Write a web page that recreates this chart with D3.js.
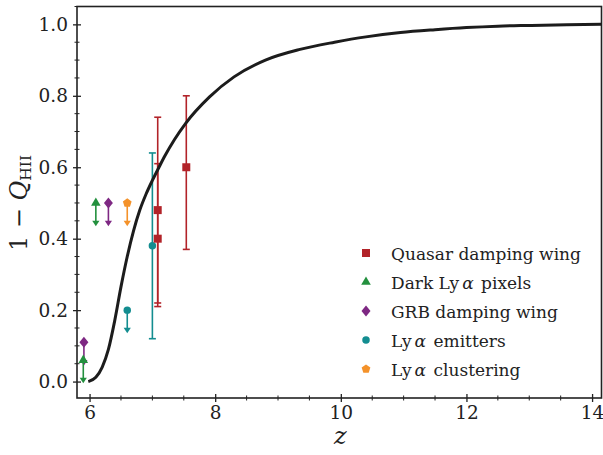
<!DOCTYPE html>
<html>
<head>
<meta charset="utf-8">
<script src="https://cdn.jsdelivr.net/npm/d3@7"></script>
<style>
  html, body { margin: 0; padding: 0; background: #fff; }
  svg { display: block; }
  svg text { font-family: "DejaVu Serif", serif; }
</style>
</head>
<body>
<svg id="chart" width="603" height="455"></svg>
<script>
// ── Model curve: neutral fraction 1 - Q_HII vs redshift ───────────────────────
const curveZ = [5.98, 6.1, 6.2, 6.3, 6.4, 6.5, 6.6, 6.7, 6.8, 6.9, 7.0, 7.1, 7.2, 7.35, 7.53, 7.91, 8.3, 8.8, 9.35, 9.9, 10.4, 10.95, 11.5, 12.0, 12.5, 13.0, 13.6, 14.15];
const curveV = [0.0, 0.012, 0.04, 0.09, 0.17, 0.265, 0.35, 0.422, 0.48, 0.525, 0.563, 0.598, 0.632, 0.677, 0.723, 0.797, 0.853, 0.90, 0.93, 0.95, 0.965, 0.977, 0.985, 0.991, 0.995, 0.997, 0.999, 1.0];

// ── Observational constraints ─────────────────────────────────────────────────
// Quasar damping wing (two-sided errors)
const qsoZ  = [7.085, 7.085, 7.54];
const qsoV  = [0.48, 0.40, 0.60];
const qsoLo = [0.22, 0.21, 0.37];
const qsoHi = [0.74, 0.61, 0.80];
// Dark Lyα pixels (upper limits)
const darkZ = [5.9, 6.1];
const darkV = [0.06, 0.50];
// GRB damping wing (upper limits)
const grbZ = [5.91, 6.3];
const grbV = [0.11, 0.50];
// Lyα emitters: one measurement, one upper limit
const laeZ  = [7.0];
const laeV  = [0.38];
const laeLo = [0.12];
const laeHi = [0.64];
const laeLimZ = [6.6];
const laeLimV = [0.20];
// Lyα clustering (upper limit)
const clusZ = [6.6];
const clusV = [0.50];

const xTicks = [6, 8, 10, 12, 14];
const yTicks = [0.0, 0.2, 0.4, 0.6, 0.8, 1.0];

const legendLabels = ['Quasar damping wing', 'Dark Ly|α| pixels', 'GRB damping wing', 'Ly|α| emitters', 'Ly|α| clustering'];

// ── Styling ───────────────────────────────────────────────────────────────────
const C_QSO = '#b22329', C_DARK = '#23903e', C_GRB = '#7e2883', C_LAE = '#138d90', C_CLUS = '#f4922a';
const LIM = 0.065;   // length of the upper-limit arrows (data units)
const FONT = '"DejaVu Serif", serif';

const svg = d3.select('#chart');
const x = d3.scaleLinear([5.8, 14.15], [77, 601.5]);
const y = d3.scaleLinear([-0.046, 1.05], [398, 6.5]);

// ── Axes (ticks straddle the spine) ───────────────────────────────────────────
const xAxis = svg.append('g').attr('transform', `translate(0,${y.range()[0]})`)
  .call(d3.axisBottom(x).tickValues(xTicks).tickFormat(d3.format('d')).tickSize(4).tickPadding(4));
const yAxis = svg.append('g').attr('transform', `translate(${x.range()[0]},0)`)
  .call(d3.axisLeft(y).tickValues(yTicks).tickFormat(d3.format('.1f')).tickSize(4).tickPadding(5));
[xAxis, yAxis].forEach(g => {
  g.attr('font-family', FONT);
  g.select('.domain').remove();
  g.selectAll('text').attr('font-size', 18.5).attr('fill', '#222');
  g.selectAll('.tick line').attr('stroke', '#222').attr('stroke-width', 1.3);
});
xAxis.selectAll('.tick line').attr('y1', -4).attr('y2', 4);
yAxis.selectAll('.tick line').attr('x1', -4).attr('x2', 4);

// minor ticks
svg.append('g').selectAll('line').data(d3.range(6, 14.2, 0.5).filter(v => v % 2 !== 0))
  .join('line').attr('x1', d => x(d)).attr('x2', d => x(d))
  .attr('y1', y.range()[0] - 2.5).attr('y2', y.range()[0] + 2.5)
  .attr('stroke', '#222').attr('stroke-width', 1);
svg.append('g').selectAll('line').data(d3.range(0, 1.06, 0.05).filter(v => Math.round(v * 100) % 20 !== 0))
  .join('line').attr('y1', d => y(d)).attr('y2', d => y(d))
  .attr('x1', x.range()[0] - 2.5).attr('x2', x.range()[0] + 2.5)
  .attr('stroke', '#222').attr('stroke-width', 1);

// frame
svg.append('rect')
  .attr('x', x.range()[0]).attr('y', y.range()[1])
  .attr('width', x.range()[1] - x.range()[0]).attr('height', y.range()[0] - y.range()[1])
  .attr('fill', 'none').attr('stroke', '#222').attr('stroke-width', 1.6);

// ── Axis labels ───────────────────────────────────────────────────────────────
svg.append('text').attr('x', (x.range()[0] + x.range()[1]) / 2 + 1).attr('y', 444)
  .attr('text-anchor', 'middle').attr('font-size', 24).attr('font-style', 'italic').attr('fill', '#222')
  .text('z');

const yl = svg.append('text').attr('transform', 'translate(27,203) rotate(-90)')
  .attr('text-anchor', 'middle').attr('font-size', 24).attr('fill', '#222');
yl.append('tspan').text('1 − ');
yl.append('tspan').attr('font-style', 'italic').text('Q');
yl.append('tspan').attr('font-size', 15.5).attr('dy', 4).text('HII');

// ── Marker shapes ─────────────────────────────────────────────────────────────
const sym = {
  square:   d3.symbol(d3.symbolSquare, 64)(),
  triangle: d3.symbol(d3.symbolTriangle, 40)(),
  diamond:  'M0,-5.5L4.5,0L0,5.5L-4.5,0Z',
  circle:   d3.symbol(d3.symbolCircle, 44)(),
  pentagon: d3.range(5).map(i => {
    const a = -Math.PI / 2 + i * 2 * Math.PI / 5;
    return [4.6 * Math.cos(a), 4.6 * Math.sin(a)];
  }).map((p, i) => (i ? 'L' : 'M') + p[0].toFixed(2) + ',' + p[1].toFixed(2)).join('') + 'Z'
};
const arrowHead = 'M-3.6,-5.5L3.6,-5.5L0,0Z';

const plot = svg.append('g');

function errorBars(zs, vs, lo, hi, col, shape) {
  const g = plot.append('g');
  const d = zs.map((z, i) => ({ z, v: vs[i], lo: lo[i], hi: hi[i] }));
  g.selectAll('line.bar').data(d).join('line')
    .attr('x1', p => x(p.z)).attr('x2', p => x(p.z))
    .attr('y1', p => y(p.lo)).attr('y2', p => y(p.hi))
    .attr('stroke', col).attr('stroke-width', 1.6);
  ['lo', 'hi'].forEach(k => {
    g.selectAll('line.cap-' + k).data(d).join('line')
      .attr('x1', p => x(p.z) - 3.5).attr('x2', p => x(p.z) + 3.5)
      .attr('y1', p => y(p[k])).attr('y2', p => y(p[k]))
      .attr('stroke', col).attr('stroke-width', 1.6);
  });
  g.selectAll('path').data(d).join('path')
    .attr('d', sym[shape]).attr('transform', p => `translate(${x(p.z)},${y(p.v)})`)
    .attr('fill', col);
}

function upperLimits(zs, vs, col, shape) {
  const g = plot.append('g');
  const d = zs.map((z, i) => ({ z, v: vs[i] }));
  g.selectAll('line').data(d).join('line')
    .attr('x1', p => x(p.z)).attr('x2', p => x(p.z))
    .attr('y1', p => y(p.v)).attr('y2', p => y(p.v - LIM) - 3)
    .attr('stroke', col).attr('stroke-width', 1.6);
  g.selectAll('path.head').data(d).join('path').attr('class', 'head')
    .attr('d', arrowHead).attr('transform', p => `translate(${x(p.z)},${y(p.v - LIM)})`)
    .attr('fill', col);
  g.selectAll('path.mk').data(d).join('path').attr('class', 'mk')
    .attr('d', sym[shape]).attr('transform', p => `translate(${x(p.z)},${y(p.v)})`)
    .attr('fill', col);
}

upperLimits(grbZ, grbV, C_GRB, 'diamond');
upperLimits(darkZ, darkV, C_DARK, 'triangle');
upperLimits(clusZ, clusV, C_CLUS, 'pentagon');
upperLimits(laeLimZ, laeLimV, C_LAE, 'circle');
errorBars(laeZ, laeV, laeLo, laeHi, C_LAE, 'circle');
errorBars(qsoZ, qsoV, qsoLo, qsoHi, C_QSO, 'square');

// ── Model curve ───────────────────────────────────────────────────────────────
const line = d3.line().x(d => x(d[0])).y(d => y(d[1])).curve(d3.curveMonotoneX);
svg.append('path').datum(curveZ.map((z, i) => [z, curveV[i]]))
  .attr('d', line).attr('fill', 'none').attr('stroke', '#1c1c1c').attr('stroke-width', 3);

// ── Legend ────────────────────────────────────────────────────────────────────
const legCols = [C_QSO, C_DARK, C_GRB, C_LAE, C_CLUS];
const legShapes = ['square', 'triangle', 'diamond', 'circle', 'pentagon'];
const leg = svg.append('g').attr('transform', 'translate(366,253)');
legendLabels.forEach((lab, i) => {
  const row = leg.append('g').attr('transform', `translate(0,${i * 29})`);
  row.append('path').attr('d', sym[legShapes[i]]).attr('fill', legCols[i]);
  const t = row.append('text').attr('x', 25).attr('y', 6.5).attr('font-size', 17).attr('fill', '#222');
  lab.split('|').forEach((part, j) => {
    const ts = t.append('tspan').text(part);
    if (j === 1) ts.attr('font-style', 'italic').attr('dx', 3);
    if (j === 2) ts.attr('dx', 2);
  });
});
</script>
</body>
</html>
